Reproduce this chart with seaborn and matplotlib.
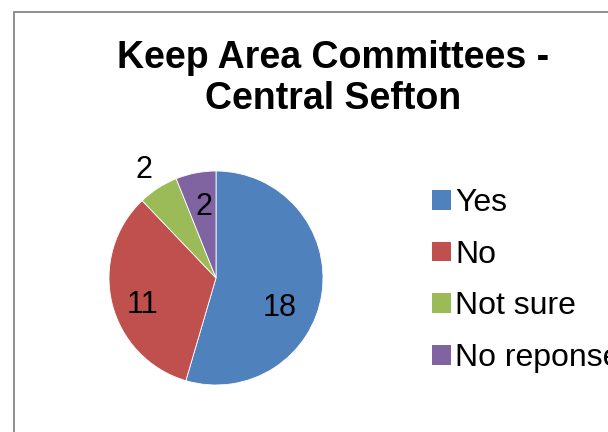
import matplotlib
matplotlib.use("Agg")
import matplotlib.pyplot as plt
import seaborn as sns
import numpy as np
from matplotlib.patches import Rectangle

categories = ["Yes", "No", "Not sure", "No reponse"]
values = [18, 11, 2, 2]
colors = ["#4F81BD", "#C0504D", "#9BBB59", "#8064A2"]
title = "Keep Area Committees -\nCentral Sefton"

sns.set_theme(style="white")
plt.rcParams["font.family"] = ["Liberation Sans", "DejaVu Sans"]
plt.rcParams["text.color"] = "black"

W, H = 608, 432
fig = plt.figure(figsize=(W / 100, H / 100), dpi=100)
fig.patch.set_facecolor("white")

# border of the chart area (cropped on right/bottom)
fig.add_artist(Rectangle((13.5 / W, -0.2), 2.0, 1.2 - 12.5 / H,
                         transform=fig.transFigure, fill=False,
                         edgecolor="#868686", linewidth=1.3))

cx, cy, r = 216, 278, 107
ax = fig.add_axes([(cx - r) / W, (H - cy - r) / H, 2 * r / W, 2 * r / H])
wedges, _ = ax.pie(values, colors=colors, startangle=90, counterclock=False,
                   radius=1.0, wedgeprops=dict(linewidth=0.6, edgecolor="white"))
ax.set_xlim(-1, 1)
ax.set_ylim(-1, 1)
ax.set_aspect("equal")
ax.axis("off")

# data labels (Excel best-fit placement)
label_r = [0.643, 0.72, 1.24, 0.705]
label_shift = [-14.4, 4.5, 0.4, -1.8]  # degrees added to wedge middle
for w, v, lr, sh in zip(wedges, values, label_r, label_shift):
    mid = (w.theta1 + w.theta2) / 2.0 + sh
    a = np.deg2rad(mid)
    ax.text(lr * np.cos(a), lr * np.sin(a), str(v), ha="center",
            va="center_baseline", fontsize=22, color="black", clip_on=False)

fig.text(333 / W, 1 - 109 / H, title, ha="center", va="baseline",
         fontsize=27, fontweight="bold", color="black", linespacing=1.17)

leg = fig.legend(wedges, categories, loc="upper left",
                 bbox_to_anchor=(432 / W, 1 - 188 / H), frameon=False,
                 fontsize=23, handlelength=0.58, handleheight=0.58,
                 handletextpad=0.15, labelspacing=0.68, borderpad=0,
                 borderaxespad=0)
for t in leg.get_texts():
    t.set_color("black")
for h in leg.legend_handles:
    h.set_linewidth(0)

fig.savefig("out.png", dpi=100)
